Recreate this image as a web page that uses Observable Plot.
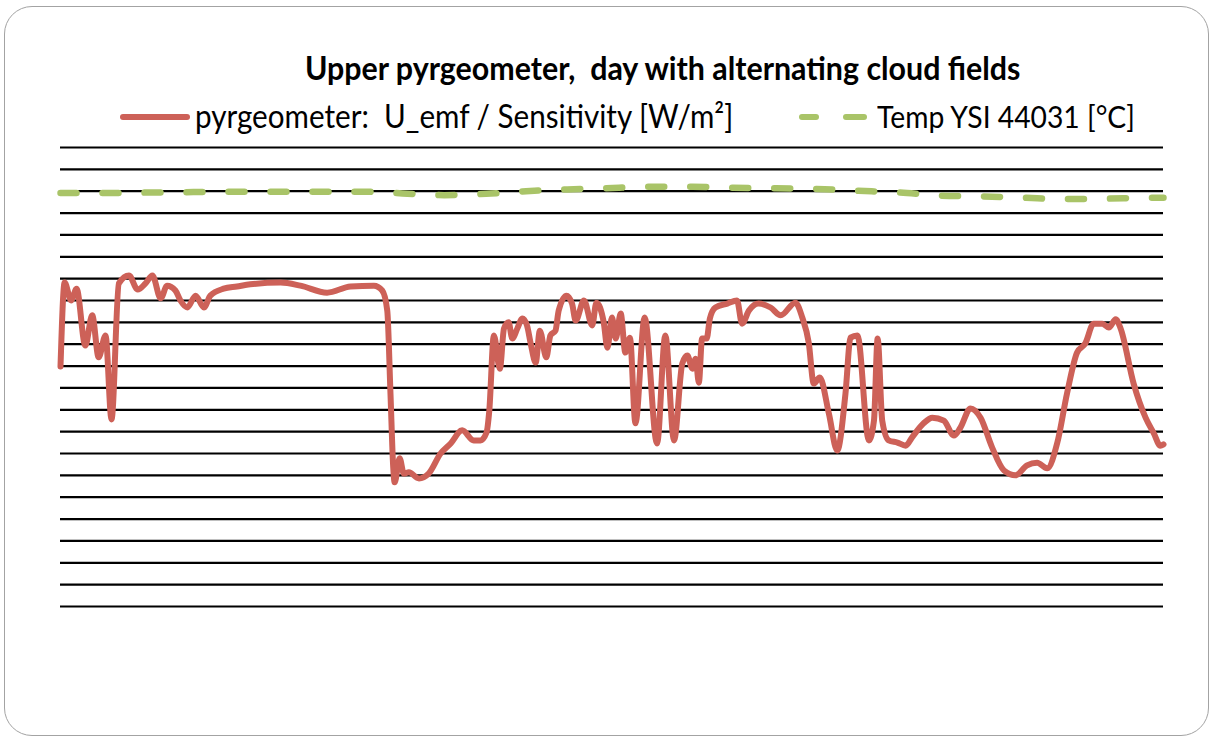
<!DOCTYPE html>
<html><head><meta charset="utf-8">
<script src="https://cdn.jsdelivr.net/npm/d3@7"></script>
<script src="https://cdn.jsdelivr.net/npm/@observablehq/plot@0.6"></script>
<style>
body{margin:0;background:#fff;font-family:Lato,"Open Sans",sans-serif;color:#000;}
#wrap{position:relative;width:1213px;height:736px;overflow:hidden;background:#fff;}
#frame{position:absolute;left:4px;top:6px;width:1205px;height:730px;border:1.5px solid #a3a3a3;border-radius:28px;box-sizing:border-box;}
.txt{position:absolute;white-space:nowrap;line-height:1;transform-origin:0 100%;}
#title{font-weight:700;}
.sw{position:absolute;height:6px;border-radius:3px;}
#chart{position:absolute;left:0;top:137px;}
</style></head>
<body>
<div id="wrap">
  <div id="frame"></div>
  <div id="title" class="txt">Upper pyrgeometer,&nbsp; day with alternating cloud fields</div>
  <div id="sw1" class="sw"></div>
  <div id="leg1" class="txt">pyrgeometer:&nbsp; U_emf / Sensitivity [W/m²]</div>
  <div id="sw2a" class="sw"></div>
  <div id="sw2b" class="sw"></div>
  <div id="leg2" class="txt">Temp YSI 44031 [°C]</div>
  <div id="chart"></div>
</div>
<script>
// ---- data (time of day in hours) ----
const seriesNames = ["pyrgeometer:  U_emf / Sensitivity [W/m²]", "Temp YSI 44031 [°C]"];
const pyrTime = [0.00,0.09,0.23,0.35,0.54,0.69,0.83,0.98,1.11,1.27,1.49,1.68,1.85,2.00,2.18,2.32,2.50,2.61,2.76,2.94,3.12,3.26,3.55,3.84,4.13,4.79,5.22,5.80,6.31,6.82,7.00,7.11,7.18,7.24,7.27,7.38,7.47,7.58,7.80,8.01,8.27,8.49,8.74,8.99,9.14,9.27,9.33,9.43,9.56,9.65,9.75,9.83,9.94,10.05,10.15,10.23,10.34,10.43,10.57,10.66,10.77,10.84,11.01,11.13,11.21,11.39,11.57,11.66,11.82,11.90,12.00,12.08,12.19,12.29,12.39,12.51,12.71,12.98,13.16,13.35,13.53,13.64,13.75,13.82,13.89,13.96,14.06,14.13,14.25,14.51,14.72,14.83,14.98,15.19,15.45,15.67,15.99,16.14,16.28,16.39,16.52,16.72,16.90,17.08,17.19,17.34,17.59,17.70,17.78,17.88,18.02,18.21,18.39,18.53,18.78,18.97,19.22,19.44,19.58,19.80,20.02,20.27,20.53,20.78,21.03,21.25,21.47,21.69,21.90,22.12,22.30,22.48,22.67,22.81,22.96,23.06,23.35,23.61,23.79,23.93,24.00];
const pyrValue = [-25.1,-5.9,-10.0,-7.3,-20.3,-13.4,-23.0,-18.0,-37.2,-6.1,-4.3,-7.5,-6.1,-4.3,-9.5,-6.6,-7.7,-10.0,-11.6,-8.9,-11.6,-8.9,-7.3,-6.8,-6.3,-5.9,-6.6,-8.2,-6.8,-6.6,-7.7,-12.3,-31.3,-48.2,-51.6,-46.1,-49.6,-49.3,-50.7,-49.6,-45.0,-42.7,-39.7,-42.0,-42.0,-40.2,-35.2,-18.0,-25.6,-16.4,-15.0,-18.7,-16.4,-14.1,-15.7,-19.8,-24.2,-16.9,-23.0,-18.0,-16.9,-12.3,-8.9,-10.7,-14.6,-10.0,-15.7,-10.5,-15.0,-20.8,-13.9,-18.7,-13.0,-21.9,-18.5,-38.1,-13.9,-42.7,-18.0,-42.0,-24.4,-22.6,-25.6,-23.3,-28.8,-18.7,-18.7,-14.1,-11.6,-10.7,-10.0,-15.3,-12.3,-10.7,-11.6,-13.4,-10.5,-13.9,-19.6,-29.0,-27.6,-35.9,-44.3,-31.3,-18.5,-18.0,-42.0,-37.5,-18.7,-37.5,-42.0,-42.5,-43.2,-41.3,-38.1,-36.8,-37.5,-40.9,-39.1,-34.7,-36.8,-43.6,-48.9,-50.0,-47.7,-47.1,-48.4,-42.5,-31.3,-21.9,-19.8,-15.3,-15.3,-16.2,-14.3,-16.2,-29.0,-36.8,-40.4,-43.2,-42.9];
const tempTime = [0.00,0.20,1.07,1.98,2.89,3.80,4.70,5.61,6.53,7.44,8.35,9.26,10.13,11.03,11.86,12.84,13.75,14.64,15.56,16.45,17.36,18.26,19.15,20.04,20.95,21.87,22.76,23.65,24.00];
const tempValue = [14.6,14.6,14.6,14.7,14.8,14.9,14.9,14.9,14.9,14.5,14.1,14.4,15.0,15.4,15.7,16.0,16.0,15.8,15.7,15.5,15.1,14.7,14.0,13.8,13.5,13.2,13.3,13.5,13.5];
const gridValues = d3.range(-80, 26, 5);

const RED = "#cd6158", GREEN = "#a9c468";

const pyr = pyrTime.map((t, i) => ({t, v: pyrValue[i], s: seriesNames[0]}));
const temp = tempTime.map((t, i) => ({t, v: tempValue[i], s: seriesNames[1]}));

const chart = Plot.plot({
  width: 1213, height: 599,
  marginLeft: 60, marginRight: 50, marginTop: 10, marginBottom: 130,
  x: {domain: [0, 24], axis: null},
  y: {domain: [-80, 25], axis: null},
  marks: [
    Plot.ruleY(gridValues, {stroke: "#000", strokeWidth: 2.2}),
    Plot.line(temp, {x: "t", y: "v", stroke: GREEN, strokeWidth: 6.5, strokeDasharray: "16,26", strokeLinecap: "round", curve: "monotone-x"}),
    Plot.line(pyr, {x: "t", y: "v", stroke: RED, strokeWidth: 6, strokeLinejoin: "round", strokeLinecap: "round", curve: "monotone-x"})
  ]
});
document.getElementById("chart").appendChild(chart);

// ---- layout of title and legend ----
const cv = document.createElement("canvas").getContext("2d");
function fit(id, left, width, baseline, weight, sy) {
  const el = document.getElementById(id);
  const txt = el.textContent;
  cv.font = `${weight} 100px Lato`;
  const w = cv.measureText(txt).width;
  const fs = 100 * width / w;
  el.style.fontSize = fs + "px";
  el.style.left = left + "px";
  el.style.top = (baseline - 0.887 * fs) + "px";
  el.style.transform = `scaleY(${sy})`;
}
fit("title", 305, 718, 80, 700, 1.08);
fit("leg1", 195, 540, 128, 400, 1.1);
fit("leg2", 877, 259, 128, 400, 1.1);
function sw(id, left, width, top, color) {
  const el = document.getElementById(id);
  Object.assign(el.style, {left: left + "px", width: width + "px", top: top + "px", background: color});
}
sw("sw1", 120, 70, 114, RED);
sw("sw2a", 799, 20, 114, GREEN);
sw("sw2b", 843, 24, 114, GREEN);
</script>
</body></html>
